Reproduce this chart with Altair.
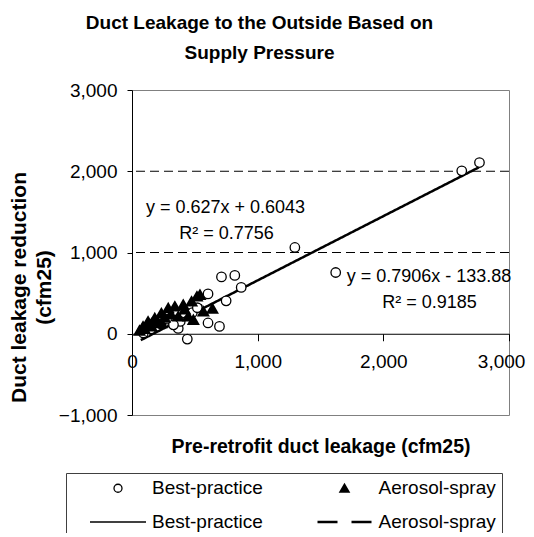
import altair as alt
import pandas as pd

FONT = "Liberation Sans"

title_lines = ["Duct Leakage to the Outside Based on", "Supply Pressure"]
x_title = "Pre-retrofit duct leakage (cfm25)"
y_title = ["Duct leakage reduction", "(cfm25)"]

x_ticks = [0, 1000, 2000, 3000]
y_ticks = [-1000, 0, 1000, 2000, 3000]
grid_y = [1000, 2000]

# Best-practice (open circles)
bp_x = [2624, 2765, 1296, 1621, 712, 818, 869, 605, 749, 605, 696, 368, 440,
        184, 384, 110, 150, 230, 280, 330, 480, 520, 90]
bp_y = [2005, 2107, 1062, 754, 700, 718, 570, 490, 405, 133, 90, 66, -66,
        151, 151, 20, 60, 120, 180, 110, 260, 320, 10]

# Aerosol-spray (filled triangles)
as_x = [60, 88, 128, 154, 181, 234, 234, 288, 341, 368, 408, 448, 474, 488,
        517, 541, 568, 640, 100, 140, 200, 260, 310, 420]
as_y = [40, 90, 152, 90, 193, 254, 131, 316, 336, 213, 357, 213, 398, 172,
        460, 480, 275, 310, 60, 110, 150, 200, 240, 300]

# trend lines (slope, intercept) as printed on the chart, and their x extents
bp_fit = (0.7906, -133.88)
bp_fit_x = [70, 2760]
as_fit = (0.627, 0.6043)
as_fit_x = [80, 560]

eq_texts = ["y = 0.627x + 0.6043", "R² = 0.7756", "y = 0.7906x - 133.88", "R² = 0.9185"]
eq_x = [744, 752, 2364, 2368]
eq_y = [1551, 1231, 702, 382]

# legend entries (column-major order: circle, solid line | triangle, dashed line)
legend_keys = ["bp_pt", "bp_ln", "as_pt", "as_ln"]
legend_names = ["Best-practice", "Aerosol-spray"]

pts = pd.DataFrame(
    {"x": bp_x + as_x, "y": bp_y + as_y,
     "key": ["bp_pt"] * len(bp_x) + ["as_pt"] * len(as_x)}
)
lines = pd.DataFrame(
    {"x": bp_fit_x + as_fit_x,
     "y": [bp_fit[0] * v + bp_fit[1] for v in bp_fit_x] + [as_fit[0] * v + as_fit[1] for v in as_fit_x],
     "key": ["bp_ln"] * 2 + ["as_ln"] * 2}
)
eqs = pd.DataFrame({"x": eq_x, "y": eq_y, "t": eq_texts})
grid = pd.DataFrame({"y": grid_y})

x_scale = alt.Scale(domain=[0, 3000], nice=False, zero=False)
y_scale = alt.Scale(domain=[-1000, 3000], nice=False, zero=False)

pad_end = "\u00a0\u00a0\u00a0\u200b"  # keeps the right-most label inside the page
x_axis = alt.Axis(values=x_ticks, format=",.0f", title=x_title, offset=-81.25, grid=False,
                  domainColor="black", tickColor="black", tickSize=7, labelPadding=12,
                  labelFlush=False, labelOverlap=False, titleFontSize=19.5,
                  labelExpr=f"datum.value == 3000 ? datum.label + '{pad_end}' : datum.label",
                  titleFontWeight="bold", titleY=119, titleBaseline="alphabetic")
y_axis = alt.Axis(values=y_ticks, format=",.0f", title=y_title, grid=False,
                  domainColor="black", tickColor="black", tickSize=5, labelPadding=10,
                  labelOverlap=False, titleFontSize=21, titleFontWeight="bold",
                  titleAngle=270, titleX=-124, titleY=197, titleAlign="center",
                  titleBaseline="top", titleLineHeight=25)

label_expr = f"indexof(datum.value, 'bp') == 0 ? '{legend_names[0]}' : '{legend_names[1]}'"

legend = alt.Legend(orient="none", legendX=-66, legendY=383, columns=2, title=None,
                    labelExpr=label_expr, labelFont=FONT, labelFontSize=19, labelColor="black",
                    labelLimit=400, symbolSize=64, symbolOffset=37, labelOffset=24.5,
                    strokeColor="#404040", fillColor="white", padding=5.5,
                    columnPadding=34.5, rowPadding=14)

solid_path = "M-7,0H7"
dash_path = "M-6.75,0H-1.75M1.75,0H6.75"

shape_enc = alt.Shape("key:N", scale=alt.Scale(domain=legend_keys,
                      range=["circle", solid_path, "triangle-up", dash_path]), legend=legend)
fill_enc = alt.Fill("key:N", scale=alt.Scale(domain=legend_keys,
                    range=["white", "black", "black", "black"]), legend=legend)
stroke_enc = alt.Stroke("key:N", scale=alt.Scale(domain=legend_keys,
                        range=["black", "black", "black", "black"]), legend=legend)
sw_enc = alt.StrokeWidth("key:N", scale=alt.Scale(domain=legend_keys,
                         range=[1.3, 2.5, 1, 3]), legend=legend)

grid_layer = alt.Chart(grid).mark_rule(color="black", strokeWidth=1, strokeDash=[9, 5]).encode(
    y=alt.Y("y:Q", scale=y_scale, axis=y_axis)
)

line_layer = alt.Chart(lines).mark_line(color="black", strokeWidth=2.5).encode(
    x=alt.X("x:Q", scale=x_scale, axis=x_axis),
    y=alt.Y("y:Q", scale=y_scale, axis=y_axis),
    detail="key:N",
    strokeDash=alt.StrokeDash("key:N", scale=alt.Scale(domain=["bp_ln", "as_ln"],
                              range=[[1, 0], [10, 6]]), legend=None),
)

point_layer = alt.Chart(pts).mark_point(size=90, opacity=1).encode(
    x=alt.X("x:Q", scale=x_scale, axis=x_axis),
    y=alt.Y("y:Q", scale=y_scale, axis=y_axis),
    shape=shape_enc,
    fill=fill_enc,
    stroke=stroke_enc,
    strokeWidth=sw_enc,
)

text_layer = alt.Chart(eqs).mark_text(font=FONT, fontSize=18, color="black").encode(
    x=alt.X("x:Q", scale=x_scale, axis=x_axis),
    y=alt.Y("y:Q", scale=y_scale, axis=y_axis),
    text="t:N",
)

chart = alt.layer(grid_layer, line_layer, point_layer, text_layer).properties(
    width=377, height=325,
    title=alt.TitleParams(text=title_lines, font=FONT, fontSize=19, fontWeight="bold",
                          color="black", anchor="middle", dx=-61, offset=18, lineHeight=30),
    autosize=alt.AutoSizeParams(type="none"),
    padding={"left": 124, "top": 82, "right": 17, "bottom": 118},
    background="white",
).configure_view(stroke="#808080", strokeWidth=1).configure_axis(
    labelFont=FONT, labelFontSize=19, labelColor="black", titleFont=FONT, titleColor="black"
)

chart.save("out.html", embed_options={"renderer": "svg", "actions": False})
